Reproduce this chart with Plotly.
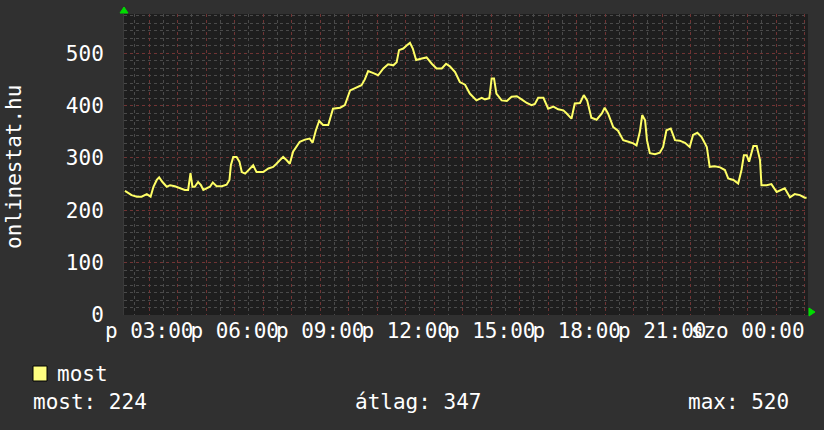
import plotly.graph_objects as go
from datetime import datetime, timedelta

# readings of the "most" series (local time, value)
times = [
    "02:09", "02:16", "02:23", "02:34", "02:44", "02:55", "03:03", "03:09", "03:16", "03:21",
    "03:28", "03:37", "03:44", "03:54", "04:05", "04:15", "04:22", "04:27", "04:31", "04:36",
    "04:43", "04:49", "04:54", "05:02", "05:08", "05:14", "05:22", "05:33", "05:43", "05:49",
    "05:52", "05:57", "06:04", "06:10", "06:15", "06:22", "06:32", "06:39", "06:46", "07:00",
    "07:11", "07:21", "07:28", "07:42", "07:49", "07:56", "08:03", "08:17", "08:28", "08:38",
    "08:44", "08:51", "08:58", "09:06", "09:17", "09:27", "09:42", "09:52", "10:03", "10:17",
    "10:27", "10:34", "10:41", "10:52", "11:02", "11:13", "11:23", "11:34", "11:41", "11:46",
    "11:55", "12:02", "12:09", "12:15", "12:22", "12:34", "12:44", "12:55", "13:05", "13:16",
    "13:25", "13:33", "13:44", "13:54", "14:05", "14:15", "14:29", "14:40", "14:47", "14:56",
    "15:01", "15:06", "15:11", "15:22", "15:33", "15:43", "15:54", "16:04", "16:15", "16:25",
    "16:32", "16:39", "16:50", "17:00", "17:11", "17:21", "17:32", "17:39", "17:49", "17:56",
    "18:07", "18:15", "18:22", "18:31", "18:42", "18:53", "18:59", "19:06", "19:17", "19:27",
    "19:38", "19:49", "19:59", "20:06", "20:13", "20:18", "20:24", "20:28", "20:34", "20:45",
    "20:55", "21:02", "21:09", "21:18", "21:27", "21:37", "21:48", "21:58", "22:05", "22:14",
    "22:23", "22:34", "22:40", "22:51", "23:02", "23:12", "23:19", "23:30", "23:40", "23:47",
    "23:52", "23:58", "00:03", "00:12", "00:19", "00:26", "00:29", "00:40", "00:50", "01:01",
    "01:11", "01:18", "01:29", "01:39", "01:50", "02:00", "02:04",
]
values = [
    237, 233, 229, 226, 226, 231, 226, 245, 258, 263,
    254, 245, 248, 246, 243, 239, 239, 271, 245, 245,
    254, 248, 239, 242, 245, 253, 246, 246, 249, 258,
    286, 302, 302, 293, 273, 270, 280, 286, 273, 273,
    280, 283, 289, 302, 296, 289, 312, 331, 335, 337,
    329, 353, 371, 363, 363, 394, 396, 401, 429, 435,
    439, 450, 466, 462, 458, 471, 479, 477, 483, 506,
    509, 515, 520, 509, 487, 490, 492, 480, 471, 471,
    480, 475, 464, 445, 440, 423, 410, 415, 412, 414,
    452, 452, 423, 410, 409, 417, 418, 412, 405, 401,
    403, 415, 415, 394, 398, 393, 391, 385, 375, 404,
    405, 420, 410, 377, 373, 385, 396, 385, 359, 352,
    334, 331, 328, 324, 350, 382, 372, 334, 309, 307,
    310, 321, 353, 356, 334, 333, 329, 321, 344, 348,
    340, 321, 283, 284, 282, 277, 261, 258, 251, 277,
    305, 305, 293, 323, 323, 296, 248, 248, 250, 235,
    239, 242, 225, 231, 229, 224, 224,
]
tick_labels = ["p 03:00", "p 06:00", "p 09:00", "p 12:00",
               "p 15:00", "p 18:00", "p 21:00", "szo 00:00"]
stat_now, stat_avg, stat_max = 224, 347, 520

FONT = "DejaVu Sans Mono"
start = datetime(2024, 3, 1, 2, 7)
end = start + timedelta(hours=24)

# turn clock readings into timestamps, rolling over midnight
x = []
day = datetime(2024, 3, 1)
for t in times:
    h, m = map(int, t.split(":"))
    d = day + timedelta(hours=h, minutes=m)
    if x and d < x[-1]:
        day += timedelta(days=1)
        d += timedelta(days=1)
    x.append(d)

hours = [datetime(2024, 3, 1, 3) + timedelta(hours=i) for i in range(24)]
hour_text = [tick_labels[i // 3] if i % 3 == 0 else "" for i in range(24)]

fig = go.Figure()
fig.add_scatter(x=x, y=values, mode="lines", name="most",
                line=dict(color="#ffff66", width=2), showlegend=False)

W, H = 824, 430
L, R, T, B = 124, 16, 14, 115
pw, ph = W - L - R, H - T - B


def px(xp):
    return (xp - L) / pw


def py(yp):
    return (H - B - yp) / ph


fig.update_layout(
    width=W, height=H,
    margin=dict(l=L, r=R, t=T, b=B, autoexpand=False),
    paper_bgcolor="#303030",
    plot_bgcolor="#1e1e1e",
    font=dict(family=FONT, size=21, color="#ffffff"),
    xaxis=dict(
        type="date", range=[start, end], automargin=False,
        tickmode="array", tickvals=hours, ticktext=hour_text, tickangle=0,
        showgrid=True, gridcolor="#703434", griddash="dot", gridwidth=1,
        ticks="", ticklabelstandoff=1, zeroline=False,
        tickfont=dict(family=FONT, size=21, color="#ffffff"),
        minor=dict(dtick=1800000, tick0="2024-03-01 00:00", showgrid=True,
                   gridcolor="#4a4a4a", griddash="dot", gridwidth=1),
        showline=False,
    ),
    yaxis=dict(
        range=[0, 575], tick0=0, dtick=100, automargin=False,
        showgrid=True, gridcolor="#703434", griddash="dot", gridwidth=1,
        ticks="", ticklabelstandoff=15, zeroline=False,
        tickfont=dict(family=FONT, size=21, color="#ffffff"),
        minor=dict(dtick=100 / 7, showgrid=True, gridcolor="#4a4a4a",
                   griddash="dot", gridwidth=1),
        showline=True, linecolor="#3a3a3a", linewidth=1,
    ),
)

# axis arrows
fig.add_shape(type="path", xref="paper", yref="paper", xsizemode="pixel",
              ysizemode="pixel", xanchor=0, yanchor=1,
              path="M -4,1 L 4,1 L 0,7 Z", fillcolor="#00dd00",
              line=dict(color="#00dd00", width=1), layer="above")
fig.add_shape(type="path", xref="paper", yref="paper", xsizemode="pixel",
              ysizemode="pixel", xanchor=1, yanchor=0,
              path="M 1,-1 L 1,7 L 7,3 Z", fillcolor="#00dd00",
              line=dict(color="#00dd00", width=1), layer="above")

# legend box
fig.add_shape(type="rect", xref="paper", yref="paper",
              x0=px(33), x1=px(47), y0=py(381), y1=py(366),
              fillcolor="#ffff80", line=dict(color="#000000", width=1))

fig.add_annotation(text="onlinestat.hu", xref="paper", yref="paper",
                   x=px(14), y=py(167), textangle=-90, showarrow=False,
                   xanchor="center", yanchor="middle",
                   font=dict(family=FONT, size=21, color="#ffffff"))
fig.add_annotation(text="most", xref="paper", yref="paper", x=px(55), y=py(374),
                   showarrow=False, xanchor="left", yanchor="middle")
fig.add_annotation(text=f"most: {stat_now}", xref="paper", yref="paper",
                   x=px(31), y=py(402), showarrow=False, xanchor="left", yanchor="middle")
fig.add_annotation(text=f"átlag: {stat_avg}", xref="paper", yref="paper",
                   x=px(353), y=py(402), showarrow=False, xanchor="left", yanchor="middle")
fig.add_annotation(text=f"max: {stat_max}", xref="paper", yref="paper",
                   x=px(686), y=py(402), showarrow=False, xanchor="left", yanchor="middle")

# the page's default body margin would push the figure 8px off the window
fig.write_html("out.html", config={"displayModeBar": False},
               post_script="document.body.style.margin='0';"
                           "document.body.style.background='#303030';")
